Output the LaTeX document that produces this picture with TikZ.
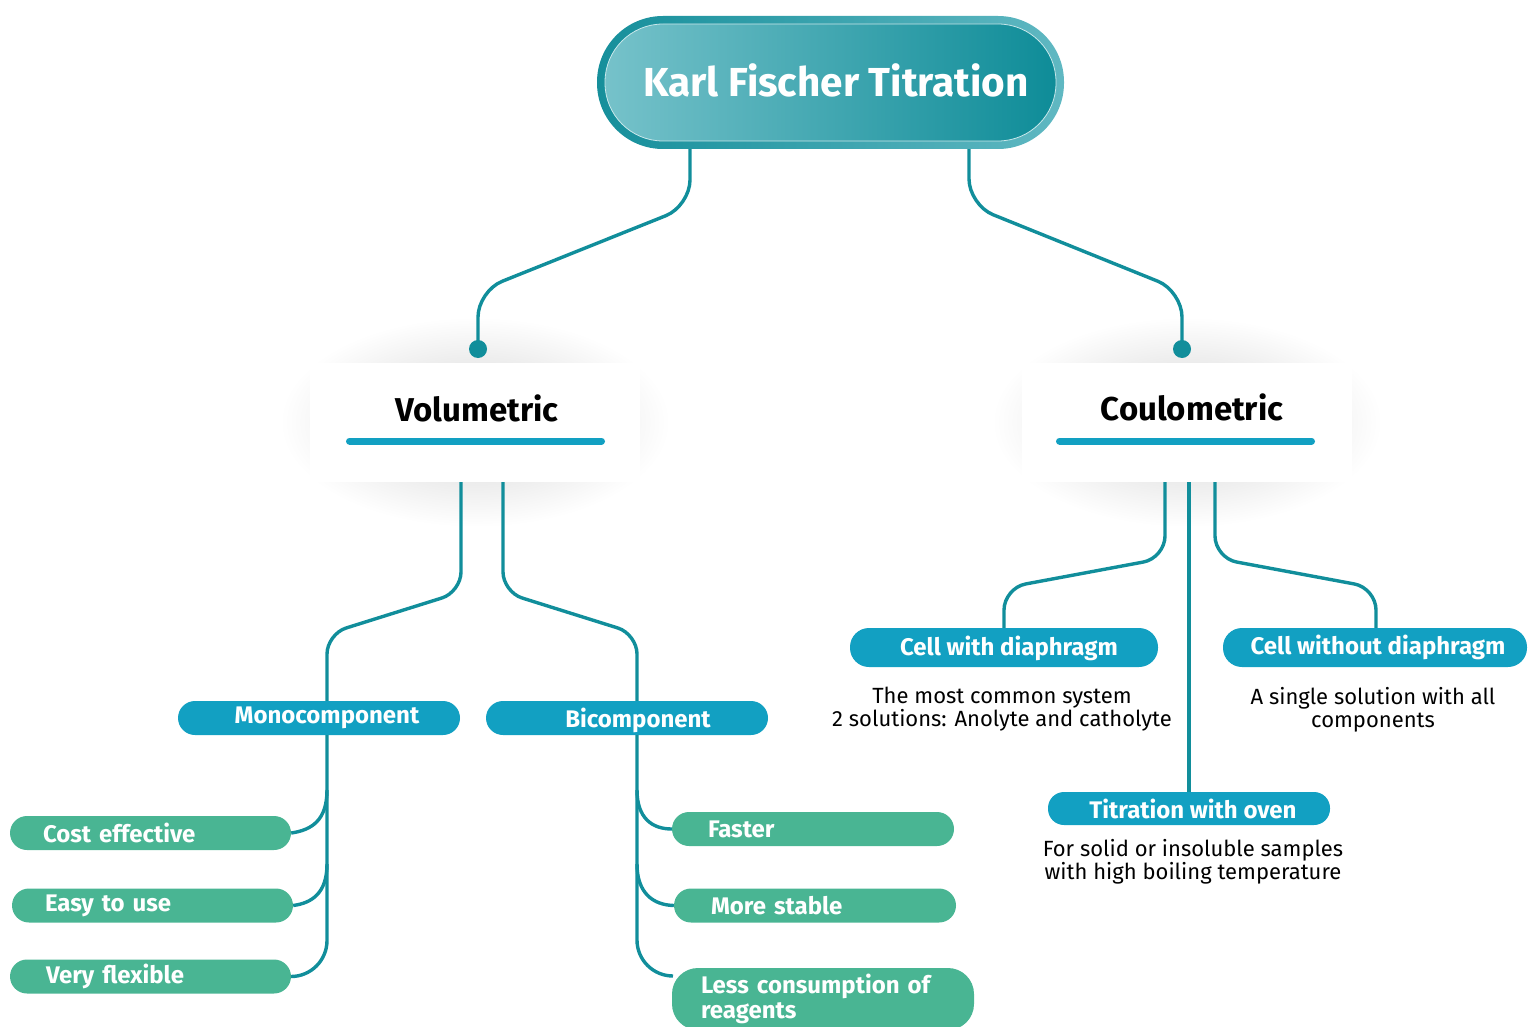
\documentclass[tikz,border=0pt]{standalone}
\usepackage{fontspec}
\setmainfont{Fira Sans}
\usetikzlibrary{calc}
\definecolor{teal1}{HTML}{118E9B}
\definecolor{blue1}{HTML}{12A0C2}
\definecolor{green1}{HTML}{49B593}
\definecolor{tlight}{HTML}{76C2CA}
\definecolor{tdark}{HTML}{0E8C98}
\definecolor{rdark}{HTML}{168F9B}
\definecolor{rlight}{HTML}{60B8C2}
\pgfdeclareradialshading{glow}{\pgfpoint{0bp}{0bp}}{color(0bp)=(black!11); color(12bp)=(black!9); color(25bp)=(white); color(50bp)=(white)}
\begin{document}
\begin{tikzpicture}[x=1pt,y=-1pt,
  conn/.style={draw=teal1, line width=3.4pt, rounded corners=22pt},
  pillfont/.style={font=\bfseries\fontsize{24}{25}\selectfont},
  bpill/.style={fill=blue1, rounded corners=17pt, minimum height=34pt, inner sep=0pt},
  lbl/.style={text=white, pillfont},
  gpill/.style={fill=green1, rounded corners=17pt, minimum height=34pt, inner ysep=0pt, align=left, text=white, pillfont},
  desc/.style={align=center, font=\fontsize{22}{23}\selectfont},
  panel/.style={fill=white, minimum width=330pt, minimum height=119pt, inner sep=0pt},
  head/.style={font=\bfseries\fontsize{33}{34}\selectfont},
  bar/.style={draw=blue1, line width=7pt, line cap=round},
  dotn/.style={circle, fill=teal1, minimum size=18pt, inner sep=0pt}
]
\useasboundingbox (0,0) rectangle (1528,1027);

% title
\node[minimum width=467pt, minimum height=133pt, rounded corners=66pt, left color=rdark, right color=rlight, inner sep=0pt] (kfto) at (830.5,82.5) {};
\node[minimum width=451pt, minimum height=117pt, rounded corners=58pt, left color=tlight, right color=tdark, draw=white!60!tlight, line width=0.8pt, inner sep=0pt] (kft) at (830.5,82.5) {};
\node[text=white, font=\bfseries\fontsize{40.5}{44}\selectfont] (kftt) at (836,80) {Karl Fischer Titration};

% panels with glow
\shade[shading=glow] (475,422) ellipse (195 and 105);
\shade[shading=glow] (1187,422) ellipse (195 and 105);
\node[panel] (volp) at (475,422.5) {};
\node[panel] (coulp) at (1187,422.5) {};
\node[head] (vol) at (477,408) {Volumetric};
\node[head] (coul) at (1192,407) {Coulometric};
\draw[bar] (349.5,441) -- (601.5,441);
\draw[bar] (1059.5,441) -- (1311.5,441);

% dots
\node[dotn] (vdot) at (478,349) {};
\node[dotn] (cdot) at (1182,349) {};

\draw[conn, rounded corners=26pt] ($(kfto.south)+(-140.5,0)$) -- (690,206) -- (478,291) -- (vdot.center);
\draw[conn, rounded corners=26pt] ($(kfto.south)+(138.5,0)$) -- (969,205) -- (1182,291) -- (cdot.center);

% volumetric children
\node[bpill, minimum width=282pt, label={[lbl, xshift=8pt]center:Monocomponent}] (mono) at (319,718) {};
\node[bpill, minimum width=282pt, label={[lbl, xshift=11pt, yshift=-2pt]center:Bicomponent}] (bic) at (627,718) {};

\draw[conn, rounded corners=20pt] ($(volp.south)+(-14,0)$) -- (461,592) -- (327,634) -- ($(mono.north)+(8,0)$);
\draw[conn, rounded corners=20pt] ($(volp.south)+(28,0)$) -- (503,592) -- (637,634) -- ($(bic.north)+(10,0)$);

\node[gpill, text width=215pt, inner xsep=33pt] (ce) at (150.5,833) {Cost effective};
\node[gpill, text width=215pt, inner xsep=33pt] (eu) at (152.5,905.5) {Easy to use};
\node[gpill, text width=209pt, inner xsep=36pt] (vf) at (150.5,976.5) {Very flexible};

\node[gpill, text width=210pt, inner xsep=36pt] (fa) at (813,829) {Faster};
\node[gpill, text width=208pt, inner xsep=37pt] (ms) at (815,905.5) {More stable};
\node[gpill, text width=244pt, inner xsep=29pt, minimum height=62pt, rounded corners=26pt] (ls) at (823,999) {Less consumption of\\reagents};
\coordinate (lsin) at (673,976);

\draw[conn, rounded corners=36pt] ($(mono.south)+(8,0)$) -- (327,976.5) -- (vf.east);
\draw[conn, rounded corners=0pt] (327,790) .. controls (327,820) and (312,830) .. (ce.east);
\draw[conn, rounded corners=0pt] (327,864) .. controls (327,893) and (312,903) .. (eu.east);

\draw[conn, rounded corners=36pt] ($(bic.south)+(10,0)$) -- (637,976) -- (lsin);
\draw[conn, rounded corners=0pt] (637,790) .. controls (637,818) and (652,829) .. (fa.west);
\draw[conn, rounded corners=0pt] (637,864) .. controls (637,893) and (653,905) .. (ms.west);

% coulometric children
\node[bpill, minimum width=308pt, minimum height=39pt, rounded corners=19pt, label={[lbl, xshift=5pt, yshift=-1pt]center:Cell with diaphragm}] (cwd) at (1004,647.5) {};
\node[bpill, minimum width=304pt, minimum height=39pt, rounded corners=19pt, label={[lbl, xshift=3pt]center:Cell without diaphragm}] (cwod) at (1375,647.5) {};
\node[bpill, minimum width=282pt, minimum height=33pt, rounded corners=16pt, label={[lbl, xshift=4pt]center:Titration with oven}] (oven) at (1189,808.5) {};

\draw[conn] ($(coulp.south)+(-22,0)$) -- (1165,558) -- (1004,588) -- (cwd.north);
\draw[conn] ($(coulp.south)+(28,0)$) -- (1215,558) -- (1376,588) -- ($(cwod.north)+(1,0)$);
\draw[conn] ($(coulp.south)+(2,0)$) -- (oven.north);

\node[desc] (cwdt) at (1002,709.5) {The most common system\\2 solutions: Anolyte and catholyte};
\node[desc] (cwodt) at (1373,709.5) {A single solution with all\\components};
\node[desc] (ovent) at (1193,861.5) {For solid or insoluble samples\\with high boiling temperature};
\end{tikzpicture}
\end{document}
